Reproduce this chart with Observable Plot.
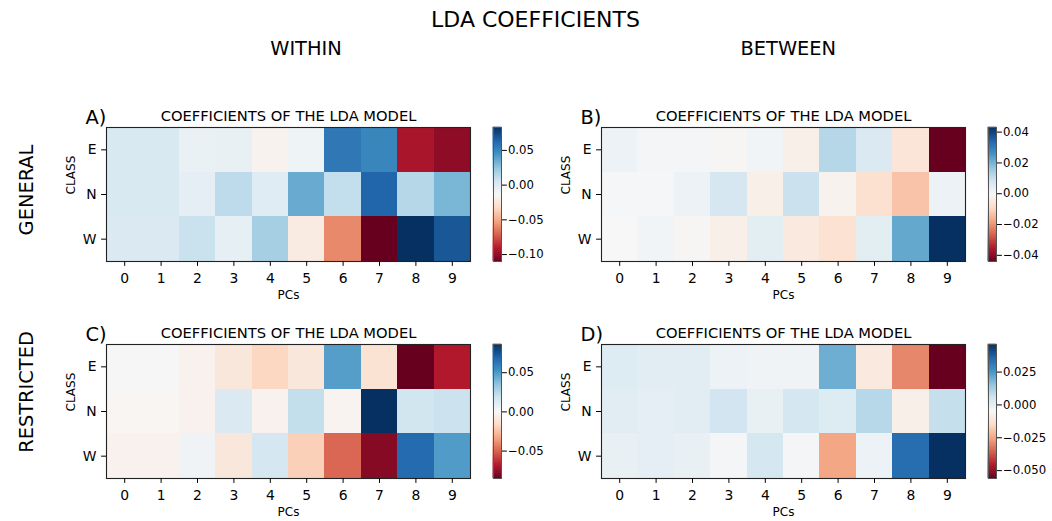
<!DOCTYPE html>
<html>
<head>
<meta charset="utf-8">
<script src="https://cdn.jsdelivr.net/npm/d3@7"></script>
<script src="https://cdn.jsdelivr.net/npm/@observablehq/plot@0.6"></script>
<style>
  html, body { margin: 0; padding: 0; background: #fff; }
  #fig { position: relative; width: 1052px; height: 521px; overflow: hidden; font-family: "DejaVu Sans", sans-serif; }
  #fig > svg, #fig > .pos { position: absolute; }
</style>
</head>
<body>
<div id="fig"></div>
<script>
// Principal components and classes
const pcs = [0, 1, 2, 3, 4, 5, 6, 7, 8, 9];
const classes = ["E", "N", "W"];

// LDA coefficients, one row per class (E, N, W), one column per PC
const withinGeneral = [
  [0.002, 0.002, -0.007, -0.006, -0.017, -0.009, 0.056, 0.050, -0.093, -0.100],
  [0.002, 0.002, -0.004, 0.012, -0.002, 0.035, 0.010, 0.064, 0.014, 0.031],
  [0.001, 0.001, 0.008, -0.005, 0.019, -0.022, -0.060, -0.110, 0.083, 0.069]
];
const betweenGeneral = [
  [0.002, 0.0005, 0.0005, -0.001, 0.001, -0.003, 0.012, 0.006, -0.006, -0.044],
  [0.0, 0.0, 0.002, 0.007, -0.003, 0.009, -0.002, -0.0075, -0.013, 0.002],
  [-0.0005, 0.001, -0.001, -0.003, 0.004, -0.005, -0.007, 0.004, 0.022, 0.043]
];
const withinRestricted = [
  [0.0, 0.0, -0.003, -0.009, -0.018, -0.009, 0.048, -0.012, -0.085, -0.068],
  [-0.001, -0.001, -0.003, 0.013, -0.003, 0.021, -0.002, 0.086, 0.017, 0.019],
  [-0.003, -0.003, 0.004, -0.009, 0.016, -0.020, -0.049, -0.078, 0.067, 0.049]
];
const betweenRestricted = [
  [0.002, 0.0006, 0.0006, -0.002, -0.003, -0.003, 0.020, -0.010, -0.030, -0.056],
  [0.0006, 0.0, 0.001, 0.005, -0.001, 0.004, 0.002, 0.0095, -0.008, 0.007],
  [-0.001, 0.0, -0.001, -0.004, 0.004, -0.004, -0.025, -0.002, 0.034, 0.046]
];

// Colorbar tick values
const ticksWithinGeneral = [0.05, 0.00, -0.05, -0.10];
const ticksBetweenGeneral = [0.04, 0.02, 0.00, -0.02, -0.04];
const ticksWithinRestricted = [0.05, 0.00, -0.05];
const ticksBetweenRestricted = [0.025, 0.000, -0.025, -0.050];

// Text
const mainTitle = "LDA COEFFICIENTS";
const columnTitles = ["WITHIN", "BETWEEN"];
const rowTitles = ["GENERAL", "RESTRICTED"];
const panelTitle = "COEFFICIENTS OF THE LDA MODEL";
const panelLetters = ["A)", "B)", "C)", "D)"];

// RdBu diverging palette, stretched linearly between each panel's min and max
const rdbu = d3.schemeRdBu[11];

const fig = document.getElementById("fig");
const FONT = "DejaVu Sans, sans-serif";
const PW = 364, PH = 134;             // heatmap plot area
const ML = 60, MR = 10, MT = 40, MB = 45;
const CBW = 8, CBGAP = 22.5;           // colorbar width and gap

const panels = [
  {vals: withinGeneral, ticks: ticksWithinGeneral, fmt: ".2f", px: 106, py: 127, letter: panelLetters[0]},
  {vals: betweenGeneral, ticks: ticksBetweenGeneral, fmt: ".2f", px: 601, py: 127, letter: panelLetters[1]},
  {vals: withinRestricted, ticks: ticksWithinRestricted, fmt: ".2f", px: 106, py: 344, letter: panelLetters[2]},
  {vals: betweenRestricted, ticks: ticksBetweenRestricted, fmt: ".3f", px: 601, py: 344, letter: panelLetters[3]}
];

function place(el, left, top) {
  el.style.left = left + "px";
  el.style.top = top + "px";
  fig.appendChild(el);
}

for (const p of panels) {
  const cells = [];
  classes.forEach((c, i) => pcs.forEach((pc, j) => cells.push({pc, cls: c, v: p.vals[i][j]})));
  const [lo, hi] = d3.extent(cells, d => d.v);
  const color = {
    type: "linear",
    domain: d3.range(11).map(k => lo + (hi - lo) * k / 10),
    range: rdbu,
    interpolate: "rgb"
  };

  const heat = Plot.plot({
    width: ML + PW + MR, height: MT + PH + MB,
    marginLeft: ML, marginRight: MR, marginTop: MT, marginBottom: MB,
    style: {fontFamily: FONT, fontSize: "13.9px", color: "black", background: "transparent", overflow: "visible"},
    x: {type: "band", domain: pcs, padding: 0, round: false},
    y: {type: "band", domain: classes, padding: 0, round: false},
    color,
    marks: [
      Plot.cell(cells, {x: "pc", y: "cls", fill: "v", inset: 0, shapeRendering: "crispEdges"}),
      Plot.frame({stroke: "#222", strokeWidth: 1.1}),
      Plot.axisX({tickSize: 4.9, tickPadding: 6.5, fontSize: 13.9, label: null}),
      Plot.axisY({tickSize: 4.9, tickPadding: 5, fontSize: 13.9, label: null}),
      Plot.text(["PCs"], {frameAnchor: "bottom", dy: 37, lineAnchor: "bottom", fontSize: 12}),
      Plot.text(["CLASS"], {frameAnchor: "left", dx: -40, rotate: -90, lineAnchor: "top", fontSize: 12}),
      Plot.text([panelTitle], {frameAnchor: "top", dy: -7, lineAnchor: "bottom", fontSize: 14.7}),
      Plot.text([p.letter], {frameAnchor: "top-left", dx: -21, dy: -4, lineAnchor: "bottom", textAnchor: "start", fontSize: 19.4})
    ]
  });
  place(heat, p.px - ML, p.py - MT);

  // colorbar: a fine ramp of values spanning the colour domain
  const n = 200;
  const ramp = d3.range(n).map(k => ({
    y1: lo + (hi - lo) * k / n,
    y2: lo + (hi - lo) * (k + 1) / n,
    v: lo + (hi - lo) * (k + 0.5) / n
  }));
  const cb = Plot.plot({
    width: CBW + 60, height: MT + PH + MB,
    marginLeft: 0, marginRight: 60, marginTop: MT, marginBottom: MB,
    style: {fontFamily: FONT, fontSize: "11.7px", color: "black", background: "transparent", overflow: "visible"},
    y: {domain: [lo, hi]},
    color,
    marks: [
      Plot.rectY(ramp, {y1: "y1", y2: "y2", fill: "v", stroke: "v", strokeWidth: 0.6}),
      Plot.frame({stroke: "#555", strokeWidth: 1}),
      Plot.axisY({anchor: "right", ticks: p.ticks, tickFormat: d3.format(p.fmt), tickSize: 4.9, tickPadding: 1.5, fontSize: 11.7, label: null})
    ]
  });
  place(cb, p.px + PW + CBGAP, p.py - MT);
}

// Figure-level titles
const ns = "http://www.w3.org/2000/svg";
const overlay = document.createElementNS(ns, "svg");
overlay.setAttribute("width", 1052);
overlay.setAttribute("height", 521);
overlay.style.left = "0px";
overlay.style.top = "0px";
overlay.style.pointerEvents = "none";
function addText(str, x, y, size, rotate) {
  const t = document.createElementNS(ns, "text");
  t.textContent = str;
  t.setAttribute("text-anchor", "middle");
  t.setAttribute("font-family", FONT);
  t.setAttribute("font-size", size);
  t.setAttribute("fill", "black");
  if (rotate) t.setAttribute("transform", `translate(${x},${y}) rotate(${rotate})`);
  else { t.setAttribute("x", x); t.setAttribute("y", y); }
  overlay.appendChild(t);
}
addText(mainTitle, 535.5, 27.3, 22);
addText(columnTitles[0], 306, 55, 19.4);
addText(columnTitles[1], 788.3, 55, 19.4);
addText(rowTitles[0], 32.7, 190, 19.4, -90);
addText(rowTitles[1], 32.7, 392, 19.4, -90);
fig.appendChild(overlay);
</script>
</body>
</html>
